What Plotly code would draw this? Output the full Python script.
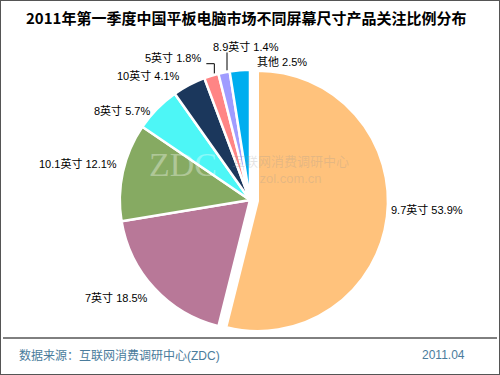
import math
import plotly.graph_objects as go

title_text = "2011年第一季度中国平板电脑市场不同屏幕尺寸产品关注比例分布"
labels = ["9.7英寸", "7英寸", "10.1英寸", "8英寸", "10英寸", "5英寸", "8.9英寸", "其他"]
values = [53.9, 18.5, 12.1, 5.7, 4.1, 1.8, 1.4, 2.5]
colors = ["#FFC27C", "#B87898", "#86AA62", "#4DF6F6", "#1B375C", "#FF8585", "#A09CFF", "#00AEEF"]
pulls = [0.06, 0, 0, 0, 0, 0, 0, 0]
source_text = "数据来源：互联网消费调研中心(ZDC)"
date_text = "2011.04"

# label placement style (pixel offsets from slice edge point)
label_dx = [2, -4, -4, -5, -7, -8, -13, 15]
label_dy = [-7, 9, -8, 2, -9, -18, -26, -8]
label_anchor = ["left", "right", "right", "right", "right", "right", "left", "left"]
leader = [None, None, None, None, None, "elbow", "vertical", None]

W, H = 500, 375
PCX, PCY, RMAX = 250, 200, 138
maxpull = max(pulls)
R = RMAX / (1 + maxpull)

fig = go.Figure()
fig.add_trace(go.Pie(
    labels=labels, values=values, sort=False, direction="clockwise", rotation=0,
    pull=pulls,
    marker=dict(colors=colors, line=dict(color="white", width=2.5)),
    textinfo="none",
    showlegend=False, hoverinfo="label+value",
    domain=dict(x=[(PCX - RMAX) / W, (PCX + RMAX) / W], y=[(H - PCY - RMAX) / H, (H - PCY + RMAX) / H]),
))

def px(x):
    return x / W

def py(y):
    return 1 - y / H

annotations = []
lead_x, lead_y = [], []
total = sum(values)
cum = 0.0
for i, (lab, v) in enumerate(zip(labels, values)):
    theta = 2 * math.pi * (cum + v / 2) / total
    cum += v
    rr = R * (1 + pulls[i])
    ex = PCX + rr * math.sin(theta)
    ey = PCY - rr * math.cos(theta)
    tx, ty = ex + label_dx[i], ey + label_dy[i]
    annotations.append(dict(
        text=f"{lab} {v:.1f}%", x=px(tx), y=py(ty), xref="paper", yref="paper",
        showarrow=False, xanchor=label_anchor[i], yanchor="middle",
        font=dict(size=11, color="#000000", family="Liberation Sans, Noto Sans CJK SC"),
    ))
    if leader[i] == "elbow":
        lead_x += [ex + 3, ex + 3, ex - 5, None]
        lead_y += [ey - 2, ey - 12, ey - 12, None]
    elif leader[i] == "vertical":
        lead_x += [ex + 3, ex + 3, None]
        lead_y += [ey - 2, ey - 20, None]

# leader lines on a hidden pixel-scaled cartesian layer
fig.add_trace(go.Scatter(x=lead_x, y=lead_y, mode="lines", line=dict(color="#000000", width=1),
                         showlegend=False, hoverinfo="skip"))

annotations += [
    dict(text="<b>" + title_text + "</b>", x=0.492, y=py(17), xref="paper", yref="paper",
         showarrow=False, font=dict(size=15, color="#000000", family="Noto Sans CJK SC"),
         xanchor="center", yanchor="middle"),
    dict(text=source_text, x=px(17), y=py(355), xref="paper", yref="paper",
         showarrow=False, font=dict(size=12, color="#4A7C9C"), xanchor="left", yanchor="middle"),
    dict(text=date_text, x=px(467), y=py(355), xref="paper", yref="paper",
         showarrow=False, font=dict(size=12, color="#4A7C9C"), xanchor="right", yanchor="middle"),
    dict(text="ZDC", x=px(183), y=py(165), xref="paper", yref="paper",
         showarrow=False, font=dict(size=34, color="rgba(255,255,255,0.35)", family="Liberation Serif"),
         xanchor="center", yanchor="middle"),
    dict(text="互联网消费调研中心<br>zol.com.cn", x=px(290), y=py(170), xref="paper", yref="paper",
         showarrow=False, font=dict(size=13, color="rgba(150,150,150,0.25)"),
         xanchor="center", yanchor="middle"),
]

shapes = [
    dict(type="rect", xref="paper", yref="paper", x0=0, y0=0, x1=1, y1=1,
         line=dict(color="#555555", width=2)),
    dict(type="line", xref="paper", yref="paper", x0=px(3), x1=px(W - 3), y0=py(338), y1=py(338),
         line=dict(color="#000000", width=1)),
]

fig.update_layout(
    width=W, height=H,
    margin=dict(l=0, r=0, t=0, b=0),
    paper_bgcolor="white", plot_bgcolor="rgba(0,0,0,0)",
    font=dict(family="Liberation Sans, Noto Sans CJK SC"),
    xaxis=dict(range=[0, W], visible=False, domain=[0, 1], fixedrange=True),
    yaxis=dict(range=[H, 0], visible=False, domain=[0, 1], fixedrange=True),
    annotations=annotations,
    shapes=shapes,
)

fig.write_html("out.html", config={"displayModeBar": False},
               post_script="document.body.style.margin='0px';document.body.style.overflow='hidden';")
